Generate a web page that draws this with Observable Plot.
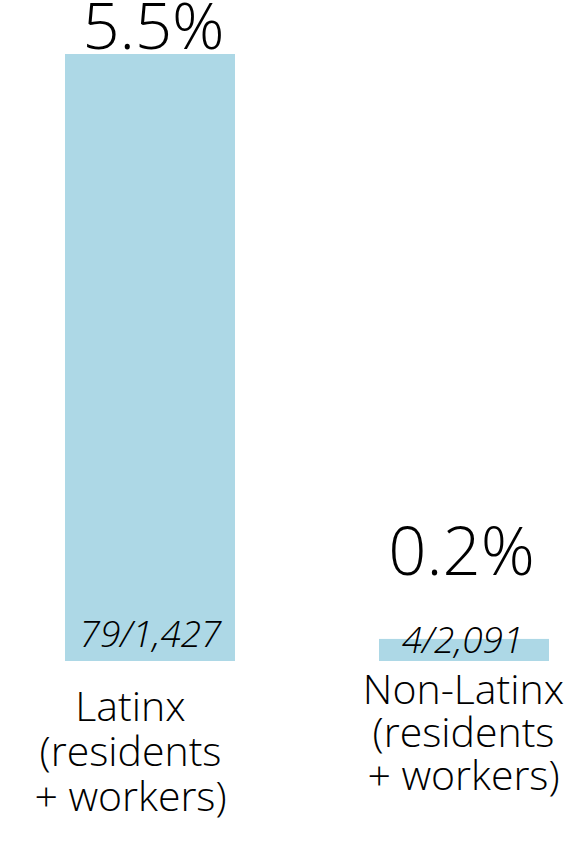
<!DOCTYPE html>
<html>
<head>
<meta charset="utf-8">
<script src="https://cdn.jsdelivr.net/npm/d3@7"></script>
<script src="https://cdn.jsdelivr.net/npm/@observablehq/plot@0.6"></script>
<style>
  html, body { margin: 0; padding: 0; background: #fff; }
  #chart svg { display: block; }
</style>
</head>
<body>
<div id="chart"></div>
<script>
// Share of people testing positive, by group
const categories = ["Latinx", "Non-Latinx"];
const groupNotes = ["(residents\n+ workers)", "(residents\n+ workers)"];
const shares = [5.5, 0.2];          // percent positive
const positives = [79, 4];          // positive tests
const tested = [1427, 2091];        // people tested

const rows = categories.map((c, i) => ({
  category: c,
  label: `${c}\n${groupNotes[i]}`,
  share: shares[i],
  pct: `${shares[i].toFixed(1)}%`,
  ratio: `${positives[i]}/${d3.format(",")(tested[i])}`
}));

const font = "'Open Sans', 'Segoe UI', sans-serif";
const barFill = "#add8e6";

const pctLabel = (d, dx, dy, fontSize) => Plot.text([d], {
  x: "category", y: "share", text: "pct",
  lineAnchor: "bottom", dx, dy,
  fontSize, fontWeight: 300, fill: "#000"
});
const ratioLabel = (d, dx, dy) => Plot.text([d], {
  x: "category", text: "ratio", frameAnchor: "bottom",
  lineAnchor: "bottom", dx, dy,
  fontSize: 37, fontStyle: "italic", fontWeight: 300, fill: "#000"
});
const groupLabel = (d, dx, dy, lineHeight) => Plot.text([d], {
  x: "category", text: "label", frameAnchor: "bottom",
  lineAnchor: "top", dx, dy, lineHeight,
  fontSize: 41, fontWeight: 300, fill: "#000"
});

const chart = Plot.plot({
  width: 576,
  height: 846,
  marginTop: 54,
  marginBottom: 185,
  marginLeft: 64,
  marginRight: 27,
  style: { fontFamily: font, background: "#fff" },
  x: { domain: categories, paddingInner: 0.46, paddingOuter: 0, axis: null },
  y: { domain: [0, 5.5], axis: null },
  marks: [
    Plot.barY(rows, { x: "category", y: "share", fill: barFill }),
    pctLabel(rows[0], 3, -6, 65),
    pctLabel(rows[1], -3, -64, 67),
    ratioLabel(rows[0], 0, -15),
    ratioLabel(rows[1], -2, -9),
    groupLabel(rows[0], -20, 27, 1.1),
    groupLabel(rows[1], -1, 12, 1.05)
  ]
});

document.getElementById("chart").appendChild(chart);
</script>
</body>
</html>
